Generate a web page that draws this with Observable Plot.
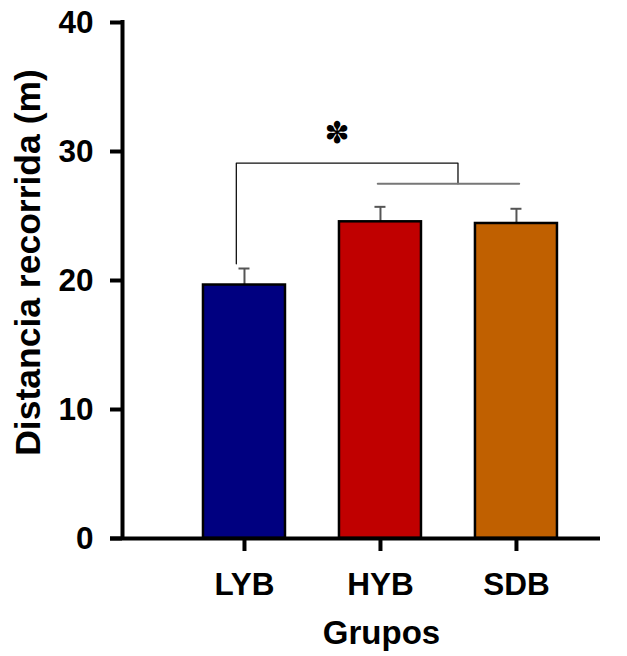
<!DOCTYPE html>
<html><head><meta charset="utf-8">
<script src="https://cdn.jsdelivr.net/npm/d3@7"></script>
<script src="https://cdn.jsdelivr.net/npm/@observablehq/plot@0.6"></script>
<style>body{margin:0;background:#fff} #chart{position:absolute;left:0;top:0}</style>
</head><body><div id="chart"></div>
<script>
// ---- data ----
const groups = ["LYB", "HYB", "SDB"];
const means = [19.65, 24.55, 24.42];
const errors = [1.28, 1.16, 1.14];
const yTicks = [0, 10, 20, 30, 40];
const bracketUpper = [[0.94, 21.3], [0.94, 29.1], [2.57, 29.1], [2.57, 27.5]];
const bracketLower = [[1.98, 27.5], [3.02, 27.5]];
const significance = [{x: 1.68, y: 31.4, label: "✽"}];
const yLabel = "Distancia recorrida (m)";
const xLabel = "Grupos";

// ---- build ----
const data = groups.map((g, i) => ({group: g, pos: i + 1, mean: means[i], err: errors[i]}));
const xDomain = [0.103, 3.618];
const font = "'Liberation Sans', Arial, Helvetica, sans-serif";

const chart = Plot.plot({
  width: 627, height: 656,
  marginLeft: 122, marginRight: 27, marginTop: 22, marginBottom: 118,
  style: {fontFamily: font, background: "white", overflow: "visible", color: "black"},
  x: {domain: xDomain, axis: null},
  y: {domain: [0, 40], axis: null},
  color: {domain: groups, range: ["#000080", "#C00000", "#C06000"]},
  marks: [
    // error bars
    Plot.ruleX(data, {x: "pos", y1: "mean", y2: d => d.mean + d.err, stroke: "#555", strokeWidth: 2}),
    Plot.ruleY(data, {x1: "pos", x2: "pos", y: d => d.mean + d.err, stroke: "#555", strokeWidth: 2, insetLeft: -5.5, insetRight: -5.5}),
    // bars
    Plot.rect(data, {x1: "pos", x2: "pos", y1: 0, y2: "mean", fill: "group", stroke: "black", strokeWidth: 2.5, insetLeft: -41, insetRight: -41}),
    // significance bracket
    Plot.line(bracketUpper, {x: d => d[0], y: d => d[1], stroke: "#111", strokeWidth: 1.3}),
    Plot.line(bracketLower, {x: d => d[0], y: d => d[1], stroke: "#777", strokeWidth: 2}),
    Plot.text(significance, {x: "x", y: "y", text: "label", fontSize: 30, fontFamily: "'DejaVu Sans'", fill: "black"}),
    // axes
    Plot.axisY(yTicks, {tickSize: 12, tickPadding: 17, fontSize: 31.5, fontWeight: "bold", strokeWidth: 4, label: null, fill: "black"}),
    Plot.axisX(data.map(d => d.pos), {tickFormat: d => groups[d - 1], tickSize: 13, tickPadding: 21, fontSize: 31.5, fontWeight: "bold", strokeWidth: 4, label: null, fill: "black"}),
    Plot.ruleX([xDomain[0]], {strokeWidth: 4, insetTop: -2}),
    Plot.ruleY([0], {strokeWidth: 4, insetLeft: -12}),
    // axis titles
    Plot.text([yLabel], {text: d => d, frameAnchor: "left", textAnchor: "middle", rotate: -90, lineAnchor: "top", dx: -108, dy: -18, fontSize: 35.5, fontWeight: "bold", fill: "black"}),
    Plot.text([xLabel], {text: d => d, frameAnchor: "bottom", textAnchor: "middle", lineAnchor: "top", dx: 20, dy: 82, fontSize: 33, fontWeight: "bold", fill: "black"})
  ]
});
document.getElementById("chart").appendChild(chart);
</script>
</body></html>
